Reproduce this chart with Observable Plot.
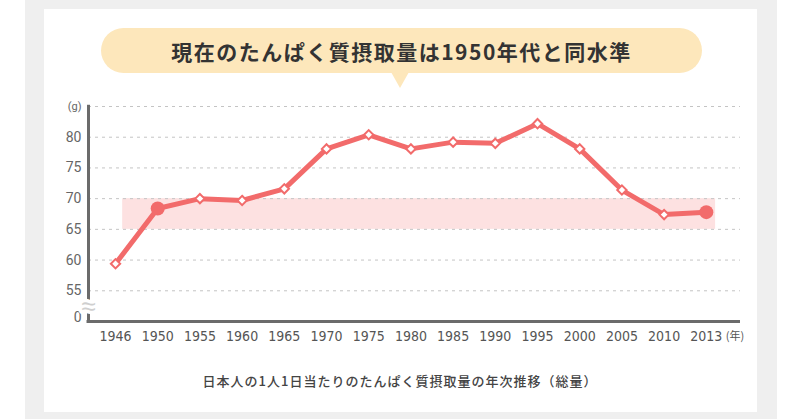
<!DOCTYPE html>
<html>
<head>
<meta charset="utf-8">
<script src="https://cdn.jsdelivr.net/npm/d3@7"></script>
<script src="https://cdn.jsdelivr.net/npm/@observablehq/plot@0.6"></script>
<style>
  html, body { margin: 0; padding: 0; }
  body { width: 800px; height: 419px; position: relative; overflow: hidden; background: #fff; font-family: "Noto Sans CJK JP", "Noto Sans", sans-serif; }
  #bg { position: absolute; left: 25px; top: 0; width: 752px; height: 419px; background: #efefef; }
  #panel { position: absolute; left: 44px; top: 9px; width: 713px; height: 403px; background: #fff; }
  #bubble { position: absolute; left: 101px; top: 28px; width: 601px; height: 45px; border-radius: 23px; background: #fde7bb;
            display: flex; align-items: center; justify-content: center; font-size: 21px; font-weight: 700; color: #333; letter-spacing: 1.5px; }
  #pointer { position: absolute; left: 391px; top: 72px; width: 0; height: 0; border-left: 9px solid transparent; border-right: 9px solid transparent; border-top: 16px solid #fde7bb; }
  #chart { position: absolute; left: 0; top: 0; }
  #caption { position: absolute; left: 0; top: 371px; width: 800px; text-align: center; font-size: 13px; color: #444; font-weight: 500; letter-spacing: 1px; }
</style>
</head>
<body>
<div id="bg"></div>
<div id="panel"></div>
<div id="bubble">現在のたんぱく質摂取量は1950年代と同水準</div>
<div id="pointer"></div>
<div id="chart"></div>
<div id="caption">日本人の1人1日当たりのたんぱく質摂取量の年次推移（総量）</div>
<script>
// Data
const years = ["1946","1950","1955","1960","1965","1970","1975","1980","1985","1990","1995","2000","2005","2010","2013"];
const protein = [59.4, 68.4, 70.0, 69.7, 71.6, 78.1, 80.4, 78.1, 79.2, 79.0, 82.2, 78.1, 71.4, 67.4, 67.8];
const highlightYears = ["1950", "2013"];
const bandRange = [65, 70];
const yTicks = [55, 60, 65, 70, 75, 80];
const gridValues = [55, 60, 65, 70, 75, 80, 85];

const data = years.map((y, i) => ({i, year: y, value: protein[i]}));
const highlights = data.filter(d => highlightYears.includes(d.year));
const xMin = -0.64, xMax = 14.81;
const red = "#f26b6b";
const tickFont = "'Liberation Sans Narrow', 'DejaVu Sans Condensed', sans-serif";

const plot = Plot.plot({
  width: 800,
  height: 360,
  marginLeft: 88,
  marginRight: 60,
  marginTop: 106,
  marginBottom: 39,
  style: {background: "transparent", overflow: "visible"},
  x: {type: "linear", domain: [xMin, xMax]},
  y: {domain: [50, 85]},
  marks: [
    Plot.rect([bandRange], {x1: 0.17, x2: 14.22, y1: d => d[0], y2: d => d[1], fill: "#fde1e1"}),
    Plot.ruleY(gridValues, {stroke: "#c4c4c4", strokeWidth: 1, strokeDasharray: "3,4"}),
    Plot.axisY({ticks: yTicks, tickSize: 0, tickPadding: 7, fontSize: 14, fill: "#666", fontFamily: "Roboto, sans-serif", label: null}),
    Plot.axisX({ticks: d3.range(years.length), tickFormat: i => years[i], tickSize: 0, tickPadding: 10, fontSize: 14, fill: "#555", fontFamily: tickFont, label: null}),
    Plot.text(["0"], {x: xMin, y: 50.7, text: d => d, textAnchor: "end", dx: -7, fontSize: 14, fill: "#666", fontFamily: "Roboto, sans-serif"}),
    Plot.text(["(g)"], {x: xMin, y: 85, text: d => d, textAnchor: "end", dx: -7, fontSize: 11, fill: "#666", fontFamily: "Roboto, sans-serif"}),
    Plot.text(["(年)"], {x: 14.46, y: 50, text: d => d, textAnchor: "start", dy: 15, fontSize: 11, fill: "#555", fontFamily: "'Noto Sans CJK JP', sans-serif"}),
    Plot.ruleX([xMin], {y1: 50, y2: 85.2, stroke: "#6b6b6b", strokeWidth: 3}),
    Plot.ruleY([50], {x1: xMin - 0.035, x2: xMax, stroke: "#6b6b6b", strokeWidth: 3}),
    Plot.text(["≈"], {x: xMin, y: 52.4, text: d => d, fontSize: 26, fill: "#cfcfcf", stroke: "white", strokeWidth: 7, paintOrder: "stroke"}),
    Plot.line(data, {x: "i", y: "value", stroke: red, strokeWidth: 5, strokeLinejoin: "round"}),
    Plot.dot(data.filter(d => !highlightYears.includes(d.year)), {x: "i", y: "value", symbol: "diamond2", r: 4.2, fill: "white", stroke: red, strokeWidth: 2}),
    Plot.dot(highlights, {x: "i", y: "value", r: 7, fill: red})
  ]
});
document.getElementById("chart").appendChild(plot);
</script>
</body>
</html>
